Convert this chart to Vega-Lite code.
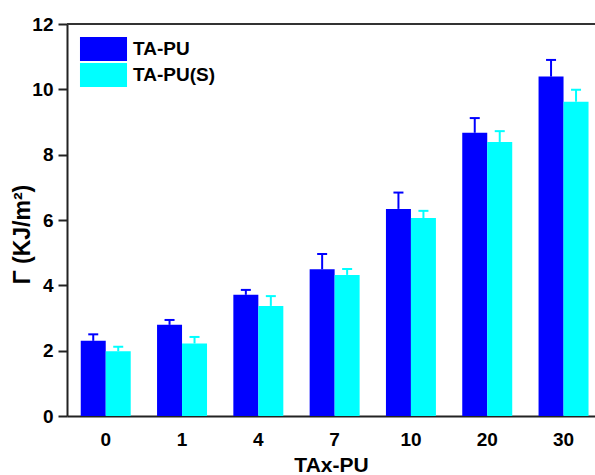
{
  "$schema": "https://vega.github.io/schema/vega-lite/v6.json",
  "width": 528,
  "height": 392,
  "autosize": {"type": "none"},
  "padding": {"left": 67, "top": 24, "right": 0, "bottom": 59},
  "config": {
    "view": {"stroke": null},
    "font": "Liberation Sans",
    "axis": {"grid": false, "domainColor": "#222222", "domainWidth": 2, "tickColor": "#222222", "tickWidth": 2, "labelColor": "#000000", "titleColor": "#000000", "labelFont": "Liberation Sans", "titleFont": "Liberation Sans", "labelFontWeight": "bold", "titleFontWeight": "bold", "labelFontSize": 19, "titleFontSize": 21}
  },
  "data": {
    "values": [
      {"cat": "0", "series": "TA-PU", "value": 2.30, "upper": 2.50},
      {"cat": "0", "series": "TA-PU(S)", "value": 1.98, "upper": 2.12},
      {"cat": "1", "series": "TA-PU", "value": 2.79, "upper": 2.94},
      {"cat": "1", "series": "TA-PU(S)", "value": 2.22, "upper": 2.42},
      {"cat": "4", "series": "TA-PU", "value": 3.71, "upper": 3.86},
      {"cat": "4", "series": "TA-PU(S)", "value": 3.37, "upper": 3.67},
      {"cat": "7", "series": "TA-PU", "value": 4.49, "upper": 4.96},
      {"cat": "7", "series": "TA-PU(S)", "value": 4.32, "upper": 4.50},
      {"cat": "10", "series": "TA-PU", "value": 6.34, "upper": 6.84},
      {"cat": "10", "series": "TA-PU(S)", "value": 6.06, "upper": 6.28},
      {"cat": "20", "series": "TA-PU", "value": 8.67, "upper": 9.12},
      {"cat": "20", "series": "TA-PU(S)", "value": 8.39, "upper": 8.72},
      {"cat": "30", "series": "TA-PU", "value": 10.39, "upper": 10.90},
      {"cat": "30", "series": "TA-PU(S)", "value": 9.62, "upper": 9.99}
    ]
  },
  "layer": [
    {
      "mark": {"type": "bar", "opacity": 1},
      "encoding": {
        "x": {"field": "cat", "type": "nominal", "sort": ["0", "1", "4", "7", "10", "20", "30"],
          "scale": {"paddingInner": 0.345, "paddingOuter": 0.1325, "align": 0.68},
          "axis": {"title": "TAx-PU", "labelAngle": 0, "ticks": false, "labelPadding": 14, "titlePadding": 5}},
        "xOffset": {"field": "series", "sort": ["TA-PU", "TA-PU(S)"]},
        "y": {"field": "value", "type": "quantitative", "scale": {"domain": [0, 12], "nice": false},
          "axis": {"title": "Γ (KJ/m²)", "titleFontSize": 23, "titleY": 210, "values": [0, 1, 2, 3, 4, 5, 6, 7, 8, 9, 10, 11, 12],
            "labelExpr": "datum.value % 2 === 0 ? datum.label : ''",
            "tickSize": {"condition": {"test": "datum.value % 2 === 0", "value": 9}, "value": 5},
            "labelPadding": 5, "titlePadding": -3}},
        "color": {"field": "series", "type": "nominal",
          "scale": {"domain": ["TA-PU", "TA-PU(S)"], "range": ["#0000FF", "#00FFFF"]},
          "legend": {"title": null, "orient": "none", "legendX": 24.5, "legendY": 13, "padding": 0, "rowPadding": 2,
            "symbolType": "M-1.96,-1H1.96V1H-1.96Z", "symbolSize": 576, "symbolStrokeWidth": 0, "symbolOpacity": 1, "symbolFillOpacity": 1,
            "labelFontSize": 19, "labelFontWeight": "bold", "labelFont": "Liberation Sans", "labelColor": "#000000", "labelOffset": 17.5}}
      }
    },
    {
      "mark": {"type": "rule", "strokeWidth": 2, "opacity": 1},
      "encoding": {
        "x": {"field": "cat", "type": "nominal", "sort": ["0", "1", "4", "7", "10", "20", "30"]},
        "xOffset": {"field": "series", "sort": ["TA-PU", "TA-PU(S)"]},
        "y": {"field": "value", "type": "quantitative"},
        "y2": {"field": "upper"},
        "color": {"field": "series", "type": "nominal"}
      }
    },
    {
      "mark": {"type": "tick", "thickness": 2, "size": 10, "opacity": 1},
      "encoding": {
        "x": {"field": "cat", "type": "nominal", "sort": ["0", "1", "4", "7", "10", "20", "30"]},
        "xOffset": {"field": "series", "sort": ["TA-PU", "TA-PU(S)"]},
        "y": {"field": "upper", "type": "quantitative"},
        "color": {"field": "series", "type": "nominal"}
      }
    },
    {
      "mark": {"type": "rule", "strokeWidth": 2, "color": "#333333"},
      "encoding": {"y": {"datum": 12}}
    }
  ]
}
